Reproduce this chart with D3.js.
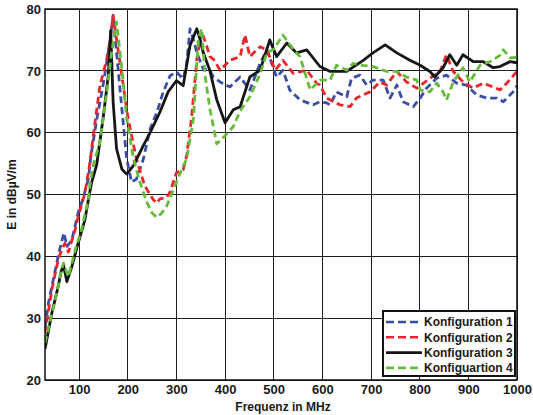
<!DOCTYPE html>
<html><head><meta charset="utf-8">
<script src="https://cdn.jsdelivr.net/npm/d3@7/dist/d3.min.js"></script>
<style>body{margin:0;background:#fff}svg text{font-family:"Liberation Sans",Arial,sans-serif;font-weight:bold}</style>
</head><body><svg id="c" width="533" height="415"></svg>
<script>
const xTicks=[100,200,300,400,500,600,700,800,900,1000];
const yTicks=[20,30,40,50,60,70,80];
const seriesNames=["Konfiguration 1","Konfiguration 2","Konfiguration 3","Konfiguartion 4"];
const konf1=[[30,28.5],[37,32.4],[47,36.2],[57,40],[63,42],[69,43.8],[75,41.6],[85,42.6],[98,47],[109,49.6],[119,52.5],[124,56],[136,62],[150,68],[164,75],[170,79],[177,73],[188,63.8],[198,55.7],[208,52],[218,52.5],[232,55.7],[246,60.6],[260,63.3],[273,66.6],[287,69.2],[300,69.8],[314,68.7],[321,71],[328,76.8],[335,75],[342,73],[355,70.3],[369,70],[376,69],[390,68.2],[410,67.4],[431,69],[451,66.9],[472,71.2],[486,73.4],[506,69],[519,70.1],[533,66.9],[554,65.3],[581,64.5],[595,65],[609,64.8],[616,64.5],[629,66.6],[650,65.8],[660,68.8],[677,69.3],[691,67.7],[704,68.5],[725,68.5],[739,65.6],[753,67.7],[766,65],[787,64.2],[801,65.6],[814,67.2],[835,68.8],[855,69.3],[876,68],[896,67.7],[917,66.1],[938,65.6],[958,65.6],[972,65],[992,66.6],[1000,67.6]];
const konf2=[[30,27.6],[44,34.6],[57,39.4],[64,41],[71,42.1],[78,40.7],[92,44.3],[98,46.4],[112,50.2],[122,55],[130,60],[143,67.6],[157,71.9],[164,75],[170,78.9],[177,75.1],[188,69.2],[201,62.2],[218,55.7],[235,51.4],[253,49.1],[260,48.6],[266,49.3],[280,49.5],[287,50.4],[300,53.5],[314,54],[321,56.2],[331,62.2],[342,71.9],[352,76.3],[362,74.1],[369,72.3],[376,71.9],[390,70.1],[410,71.7],[431,72.3],[441,75.8],[451,72.3],[472,73.9],[486,73.4],[503,70.1],[519,71.7],[540,69.6],[568,70.1],[588,68],[595,67.7],[609,65.6],[636,64.5],[657,64.2],[670,65.6],[684,66.1],[698,66.6],[718,68.2],[732,67.7],[753,69.9],[773,68.2],[794,67.2],[808,68],[821,68.8],[842,69.9],[855,72.6],[869,69.9],[889,68.2],[910,67.2],[930,68],[951,67.4],[965,66.9],[979,68],[1000,69.9]];
const konf3=[[30,25],[44,30.8],[57,35.1],[63,37.5],[68,38.6],[75,35.9],[85,38.3],[98,42.1],[112,45.9],[122,50.4],[126,52],[136,54.7],[150,62.7],[160,69.2],[165,76.5],[170,65],[177,57.4],[188,54.1],[194,53.6],[198,53.3],[212,54.7],[232,57.9],[246,60],[266,63.3],[283,66.6],[300,68.4],[314,67.6],[328,74.1],[342,76.8],[349,75],[355,73],[369,70],[383,65.3],[400,61.6],[417,63.7],[431,64.2],[451,69],[472,70.1],[492,75],[506,72.3],[527,74.5],[547,72.9],[568,73.4],[595,70.7],[616,69.9],[650,69.9],[684,71.7],[704,72.9],[729,74.2],[753,72.9],[780,71.7],[801,70.9],[821,69.9],[831,69],[848,70.5],[862,72.6],[876,70.9],[889,72.6],[910,71.5],[930,71.5],[951,70.5],[965,70.7],[986,71.5],[1000,71.3]];
const konf4=[[30,26],[51,32.9],[64,37.8],[68,38.9],[78,36.7],[92,41],[105,44.3],[119,49.1],[122,51.4],[130,55],[143,58.5],[157,66.6],[167,73],[177,77.9],[188,70.3],[198,62.2],[212,55.7],[225,52],[239,48.8],[250,47],[260,46.3],[270,47],[280,48.1],[300,52],[314,54.6],[321,55.7],[335,62.2],[345,75.1],[352,76.8],[359,69.2],[369,63.8],[383,58.2],[400,59.5],[417,61],[431,63.5],[451,65.8],[472,69.5],[486,72.9],[500,73.5],[519,75.8],[540,73.5],[554,72.3],[575,66.9],[595,68.5],[616,68.5],[629,70.9],[650,70.1],[663,71.2],[684,70.9],[704,70.7],[732,69.9],[753,69.9],[773,69],[794,68.5],[801,66.9],[821,66.6],[835,68],[848,66.6],[855,65.3],[869,68.2],[889,70.5],[903,68.2],[924,70.9],[945,71.5],[965,72.5],[972,73.4],[986,72.1],[1000,72.2]];

const svg=d3.select("#c");
const L=45,R=517,T=9,B=380;
const x=d3.scaleLinear().domain([30,1000]).range([L,R]);
const y=d3.scaleLinear().domain([20,80]).range([B,T]);

const grid=svg.append("g").attr("stroke","#1e1e1e").attr("stroke-width",1).attr("shape-rendering","crispEdges");
xTicks.forEach(t=>grid.append("line").attr("x1",x(t)).attr("x2",x(t)).attr("y1",T).attr("y2",B));
yTicks.forEach(t=>grid.append("line").attr("x1",L).attr("x2",R).attr("y1",y(t)).attr("y2",y(t)));

const xa=svg.append("g").attr("transform",`translate(0,${B})`).call(d3.axisBottom(x).tickValues(xTicks).tickFormat(d3.format("d")).tickSize(0).tickPadding(6));
const ya=svg.append("g").attr("transform",`translate(${L},0)`).call(d3.axisLeft(y).tickValues(yTicks).tickFormat(d3.format("d")).tickSize(0).tickPadding(4));
[xa,ya].forEach(a=>{a.select(".domain").remove();a.selectAll("text").attr("font-size",13).attr("font-weight","bold").attr("fill","#1a1a1a").attr("font-family","'Liberation Sans',Arial,sans-serif");});
xa.selectAll("text").attr("dy","0.6em");

const line=d3.line().x(d=>x(d[0])).y(d=>y(d[1]));
const defs=[{d:konf1,c:"#3a4ea6",dash:"7,4"},{d:konf2,c:"#e8262b",dash:"7,4"},{d:konf3,c:"#161616",dash:null},{d:konf4,c:"#66bb3a",dash:"7,4"}];
svg.append("clipPath").attr("id","pc").append("rect").attr("x",L).attr("y",T).attr("width",R-L).attr("height",B-T);
const lg=svg.append("g").attr("clip-path","url(#pc)");
defs.forEach(s=>{lg.append("path").attr("d",line(s.d)).attr("fill","none").attr("stroke",s.c).attr("stroke-width",2.8).attr("stroke-linejoin","round").attr("stroke-dasharray",s.dash);});

svg.append("rect").attr("x",L).attr("y",T).attr("width",R-L).attr("height",B-T).attr("fill","none").attr("stroke","#111").attr("stroke-width",1.5);

svg.append("text").attr("x",(L+R)/2+2).attr("y",411).attr("text-anchor","middle").attr("font-size",12).attr("fill","#1a1a1a").text("Frequenz in MHz");
svg.append("text").attr("transform",`translate(16,${(T+B)/2}) rotate(-90)`).attr("text-anchor","middle").attr("font-size",12).attr("fill","#1a1a1a").text("E in dBµV/m");

const leg=svg.append("g");
leg.append("rect").attr("x",383).attr("y",311).attr("width",132).attr("height",65).attr("fill","#fff").attr("stroke","#111").attr("stroke-width",2);
defs.forEach((s,i)=>{const yy=322+i*15.3;
 leg.append("line").attr("x1",386).attr("x2",422).attr("y1",yy).attr("y2",yy).attr("stroke",s.c).attr("stroke-width",2.6).attr("stroke-dasharray",s.dash?"8,4":null);
 leg.append("text").attr("x",424).attr("y",yy+4.3).attr("font-size",12).attr("fill","#1a1a1a").text(seriesNames[i]);});
</script></body></html>
